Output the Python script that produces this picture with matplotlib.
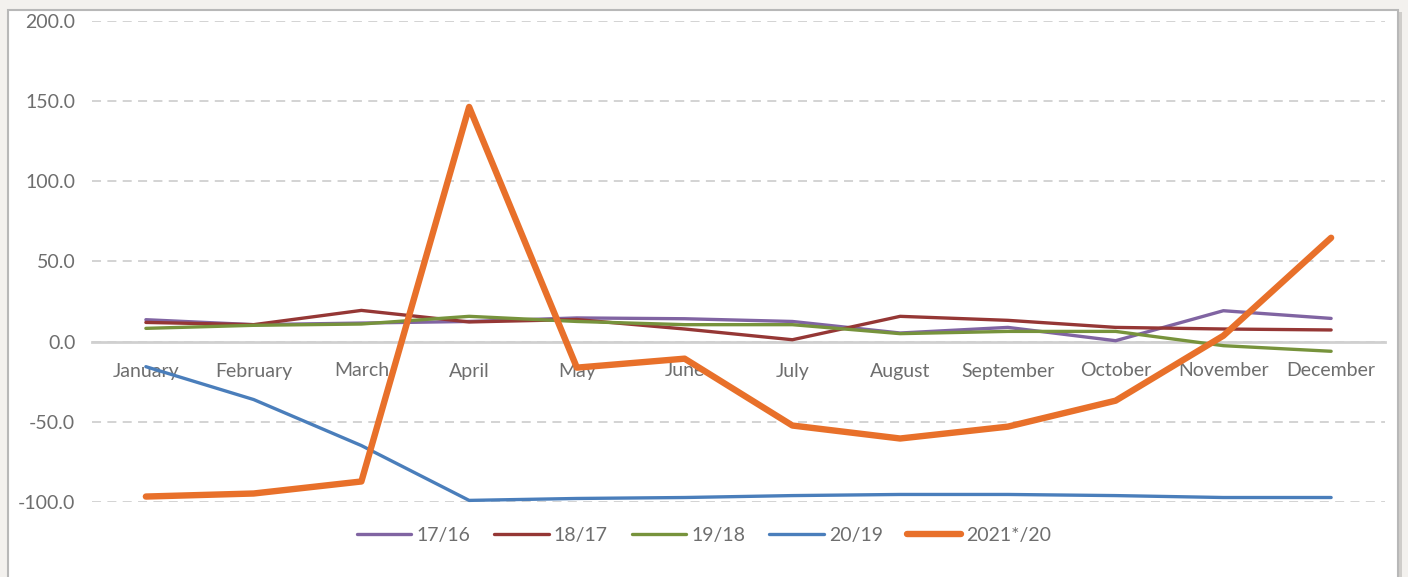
import matplotlib.pyplot as plt
from matplotlib.patches import Rectangle

months = ['January', 'February', 'March', 'April', 'May', 'June', 'July',
          'August', 'September', 'October', 'November', 'December']

s17_16 = [13.7, 10.6, 11.6, 12.6, 14.8, 14.3, 12.6, 5.4, 8.9, 0.6, 19.3, 14.5]
s18_17 = [12.0, 10.6, 19.5, 12.3, 13.8, 7.9, 1.2, 15.8, 13.3, 8.9, 7.9, 7.3]
s19_18 = [8.3, 10.2, 11.0, 15.8, 12.6, 10.6, 10.6, 5.0, 6.4, 6.4, -2.5, -6.0]
s20_19 = [-15.6, -36.1, -64.8, -99.0, -97.8, -97.2, -96.0, -95.3, -95.3, -96.0, -97.2, -97.2]
s21_20 = [-96.6, -94.7, -87.2, 146.4, -16.2, -10.6, -52.3, -60.4, -53.0, -36.8, 3.7, 64.8]

labels = ['17/16', '18/17', '19/18', '20/19', '2021*/20']
colors = ['#8064A2', '#953735', '#77933C', '#4A7EBB', '#E8702A']
widths = [2.4, 2.4, 2.4, 2.4, 4.6]

plt.rcParams['font.family'] = ['Lato', 'DejaVu Sans']

fig = plt.figure(figsize=(14.08, 5.77), dpi=100)
fig.patch.set_facecolor('#f3f1ee')
# white chart area with grey border
fig.patches.append(Rectangle((8 / 1408, -0.05), 1390 / 1408, 1.05 - 10 / 577,
                             transform=fig.transFigure, facecolor='white',
                             edgecolor='#b8b8b8', linewidth=1.5, zorder=-5))
fig.patches.append(Rectangle((1399 / 1408, -0.05), 2.5 / 1408, 1.05 - 12 / 577,
                             transform=fig.transFigure, facecolor='#cfcdca',
                             edgecolor='none', zorder=-6))

ax = fig.add_axes([92 / 1408, 1 - 502 / 577, 1293 / 1408, 481 / 577])
ax.set_facecolor('none')

x = range(len(months))
for data, lab, c, w in zip([s17_16, s18_17, s19_18, s20_19, s21_20], labels, colors, widths):
    ax.plot(x, data, color=c, lw=w, label=lab, solid_capstyle='round',
            solid_joinstyle='round', clip_on=False)

ax.set_xlim(-0.5, 11.5)
ax.set_ylim(-100, 200)
ax.set_yticks(range(-100, 201, 50))
ax.set_yticklabels([f'{v:.1f}' for v in range(-100, 201, 50)])
ax.grid(axis='y', color='#d0d0d0', lw=1.3, linestyle=(0, (5, 3.5)))
ax.set_axisbelow(True)

for sp in ['top', 'right', 'left']:
    ax.spines[sp].set_visible(False)
ax.spines['bottom'].set_position(('data', 0))
ax.spines['bottom'].set_color('#d0d0d0')
ax.spines['bottom'].set_linewidth(2)
ax.spines['bottom'].set_zorder(0.5)

ax.set_xticks(list(x))
ax.set_xticklabels(months)
ax.tick_params(axis='x', length=0, pad=15, labelsize=14, labelcolor='#6e6e6e')
ax.tick_params(axis='y', length=0, pad=12, labelsize=14, labelcolor='#6e6e6e')

# legend centred on the figure, below the plot area
leg = fig.legend(*ax.get_legend_handles_labels(), loc='center',
                 bbox_to_anchor=(0.5, 1 - 535 / 577), ncol=5, frameon=False,
                 fontsize=14, handlelength=2.8, columnspacing=1.25, handletextpad=0.25,
                 labelcolor='#6e6e6e')

fig.savefig('out.png', dpi=100, facecolor=fig.get_facecolor())
